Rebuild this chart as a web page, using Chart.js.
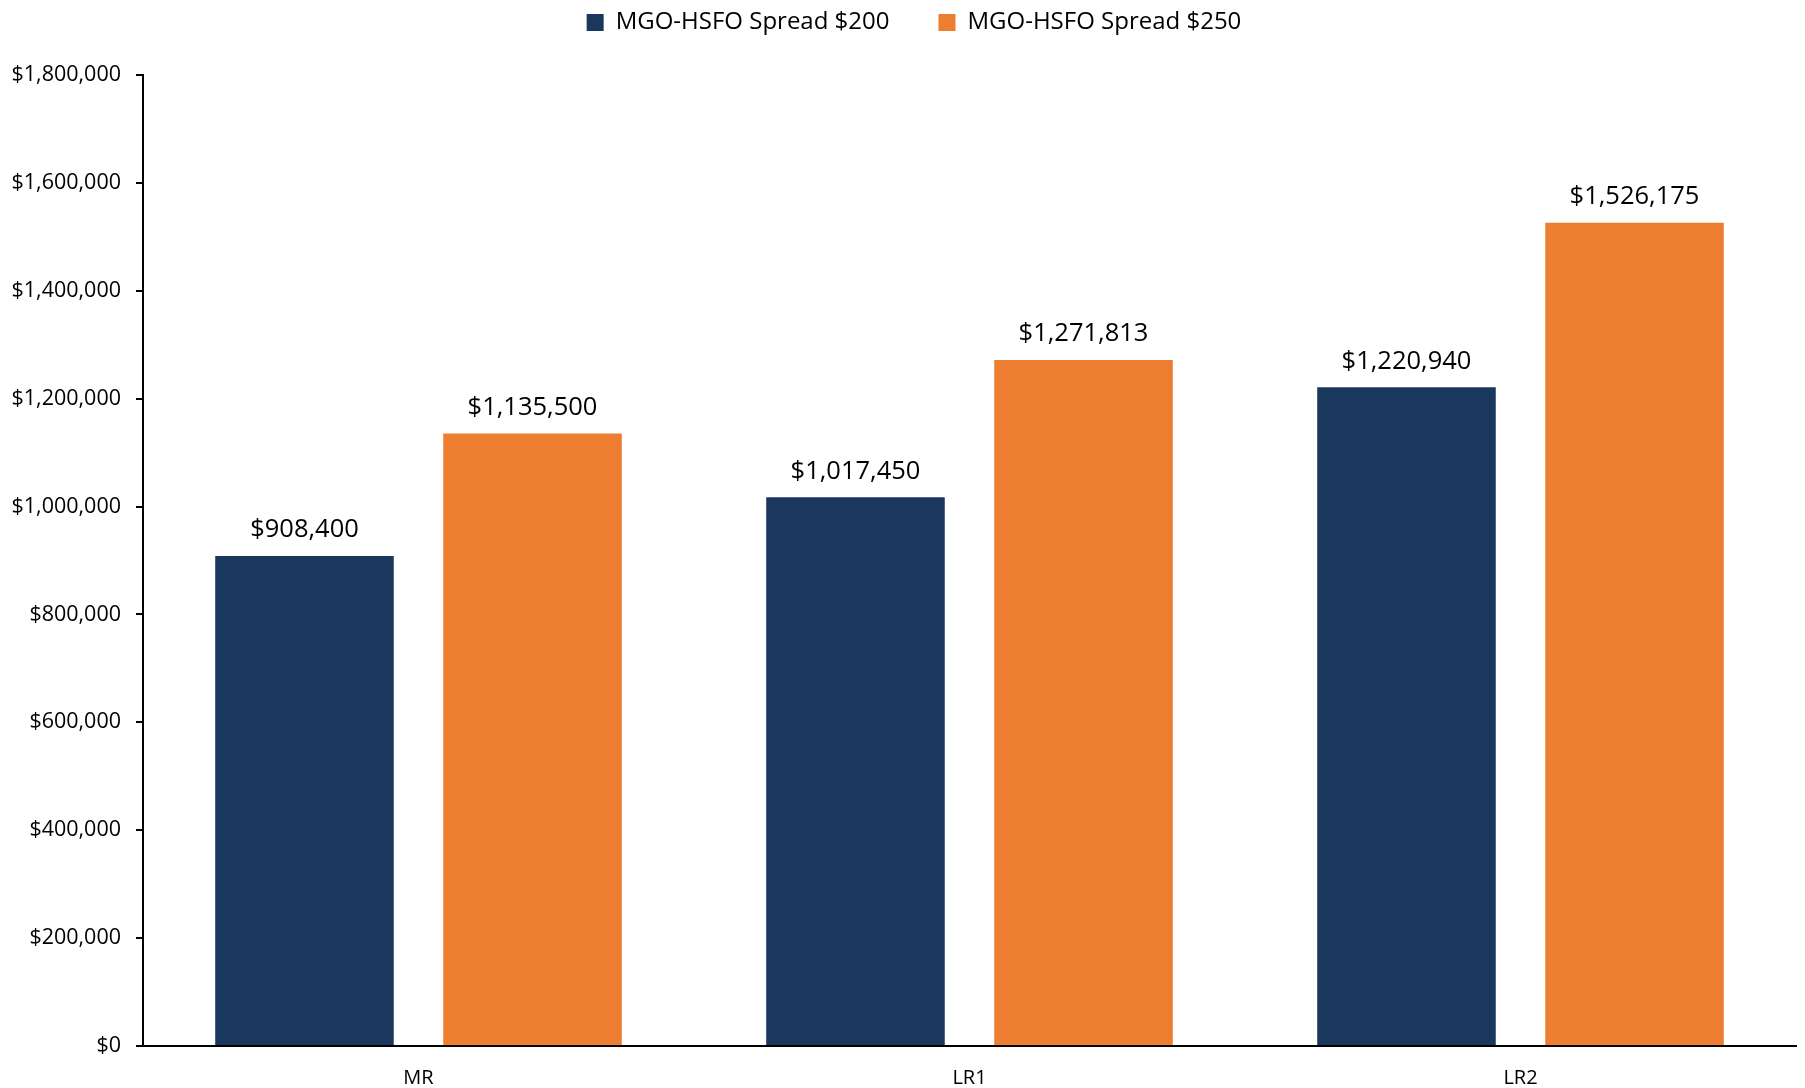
<!DOCTYPE html>
<html>
<head>
<meta charset="utf-8">
<script src="https://cdn.jsdelivr.net/npm/chart.js@4/dist/chart.umd.min.js"></script>
<style>
  html, body { margin: 0; padding: 0; background: #ffffff; }
  #wrap { width: 1805px; height: 1088px; position: relative; }
</style>
</head>
<body>
<div id="wrap"><canvas id="c" width="1805" height="1088"></canvas></div>
<script>
// Vessel classes and annual savings at two MGO-HSFO price spreads
const categories = ['MR', 'LR1', 'LR2'];
const spread200 = [908400, 1017450, 1220940];
const spread250 = [1135500, 1271813, 1526175];
const seriesNames = ['MGO-HSFO Spread $200', 'MGO-HSFO Spread $250'];
const yTicks = [0, 200000, 400000, 600000, 800000, 1000000, 1200000, 1400000, 1600000, 1800000];

const FONT = "'Open Sans', 'Noto Sans', sans-serif";
const money = v => '$' + Number(v).toLocaleString('en-US');

// Legend sits in a fixed band above the plot; items are spaced apart
const legendBand = { height: 75, textCenter: 22.5, shiftX: 16 };

const legendPlacement = {
  id: 'legendPlacement',
  beforeLayout(chart) {
    const lg = chart.legend;
    if (!lg || lg._placed) return;
    lg._placed = true;
    const origFit = lg.fit;
    lg.fit = function () {
      origFit.call(this);
      this.height = legendBand.height;
    };
    const origDraw = lg.draw;
    lg.draw = function () {
      const o = this.options;
      const size = o.labels.font.size;
      const dy = legendBand.textCenter - (this.top + o.labels.padding + size / 2);
      this.ctx.save();
      this.ctx.translate(legendBand.shiftX, dy);
      origDraw.call(this);
      this.ctx.restore();
    };
  }
};

// Value labels above each bar
const valueLabels = {
  id: 'valueLabels',
  afterDatasetsDraw(chart) {
    const ctx = chart.ctx;
    ctx.save();
    ctx.font = "25.5px " + FONT;
    ctx.fillStyle = '#000000';
    ctx.textAlign = 'center';
    ctx.textBaseline = 'alphabetic';
    chart.data.datasets.forEach((ds, di) => {
      const meta = chart.getDatasetMeta(di);
      meta.data.forEach((bar, i) => {
        ctx.fillText(money(ds.data[i]), bar.x, bar.y - 18.5);
      });
    });
    ctx.restore();
  }
};

new Chart(document.getElementById('c'), {
  type: 'bar',
  data: {
    labels: categories,
    datasets: [
      { label: seriesNames[0], data: spread200, backgroundColor: '#1a375e', borderWidth: 0 },
      { label: seriesNames[1], data: spread250, backgroundColor: '#ed7d31', borderWidth: 0 }
    ]
  },
  options: {
    responsive: false,
    animation: false,
    devicePixelRatio: 1,
    categoryPercentage: 0.8277,
    barPercentage: 0.783,
    layout: { padding: { left: 0, right: 9, top: 0, bottom: 0 } },
    plugins: {
      legend: {
        position: 'top',
        align: 'center',
        labels: {
          boxWidth: 17,
          boxHeight: 17,
          padding: 49,
          color: '#000000',
          font: { family: FONT, size: 24 }
        }
      },
      tooltip: { enabled: false }
    },
    scales: {
      x: {
        grid: { display: false, drawTicks: false },
        border: { display: true, color: '#000000', width: 2 },
        ticks: {
          color: '#000000',
          padding: 20,
          font: { family: FONT, size: 20 }
        },
        afterFit(scale) { scale.height = 42; }
      },
      y: {
        min: 0,
        max: yTicks[yTicks.length - 1],
        afterBuildTicks(scale) { scale.ticks = yTicks.map(v => ({ value: v })); },
        grid: {
          display: true,
          drawOnChartArea: false,
          drawTicks: true,
          tickLength: 7,
          color: '#000000',
          lineWidth: 2
        },
        border: { display: true, color: '#000000', width: 2 },
        ticks: {
          color: '#000000',
          padding: 15,
          font: { family: FONT, size: 21.5 },
          callback: v => money(v)
        },
        afterFit(scale) { scale.width = 143; }
      }
    }
  },
  plugins: [legendPlacement, valueLabels]
});
</script>
</body>
</html>
